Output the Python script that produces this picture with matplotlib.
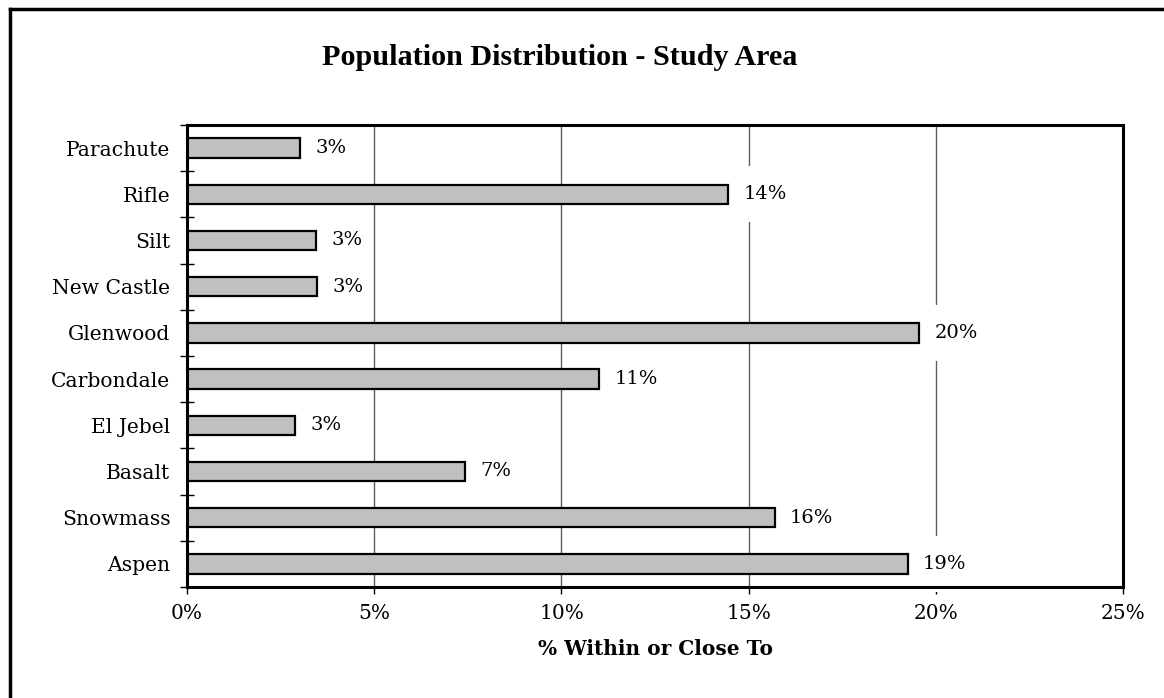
import matplotlib
matplotlib.use("Agg")
import matplotlib.pyplot as plt
from matplotlib.lines import Line2D
from matplotlib.ticker import FixedLocator, FuncFormatter

# Share of study-area population, percent (top to bottom as listed)
towns = ["Parachute", "Rifle", "Silt", "New Castle", "Glenwood",
         "Carbondale", "El Jebel", "Basalt", "Snowmass", "Aspen"]
share_pct = [3.02, 14.45, 3.45, 3.48, 19.55, 11.01, 2.88, 7.43, 15.70, 19.25]
x_ticks = [0, 5, 10, 15, 20, 25]

serif = ["DejaVu Serif"]

fig = plt.figure(figsize=(11.64, 6.98), dpi=100)
ax = fig.add_axes([0.1607, 0.159, 0.8041, 0.662])

# Categories drawn top to bottom
ypos = list(range(len(towns)))[::-1]
ax.barh(ypos, share_pct, height=0.42, color="#c0c0c0", edgecolor="black",
        linewidth=1.6, zorder=2)

ax.set_xlim(0, 25)
ax.set_ylim(-0.5, len(towns) - 0.5)

# Vertical gridlines at the major ticks
ax.xaxis.set_major_locator(FixedLocator(x_ticks))
ax.xaxis.set_major_formatter(FuncFormatter(lambda v, p: f"{v:.0f}%"))
ax.grid(axis="x", color="#5e5e5e", linewidth=1.0, zorder=1)
ax.set_axisbelow(True)

ax.set_yticks(ypos)
ax.set_yticklabels(towns, fontfamily=serif, fontsize=14.6)
ax.yaxis.set_minor_locator(FixedLocator([y - 0.5 for y in range(len(towns) + 1)]))
ax.tick_params(axis="y", which="major", length=0, pad=12)
ax.tick_params(axis="y", which="minor", direction="inout", length=10, width=1.0)
ax.tick_params(axis="x", which="major", direction="out", length=5, width=1.0, pad=7)
for lbl in ax.get_xticklabels():
    lbl.set_fontfamily(serif)
    lbl.set_fontsize(14.5)

for side in ["left", "right", "top", "bottom"]:
    ax.spines[side].set_linewidth(2.2)
    ax.spines[side].set_color("black")
    ax.spines[side].set_zorder(3)

# Value labels with white backing that breaks the gridlines
for y, v in zip(ypos, share_pct):
    ax.annotate("\n" + f"{v:.0f}%" + "\n", xy=(v, y), xytext=(11, 0),
                textcoords="offset points", ha="left", va="center",
                fontfamily=serif, fontsize=14, linespacing=0.9,
                bbox=dict(boxstyle="square,pad=0.12", facecolor="white",
                          edgecolor="none"),
                zorder=2.5, annotation_clip=False)

ax.set_xlabel("% Within or Close To", fontfamily=serif, fontsize=14.5,
              fontweight="bold", labelpad=12)

fig.text(0.4807, 0.918, "Population Distribution - Study Area",
         fontfamily=["Liberation Serif"], fontsize=21.7, fontweight="bold",
         ha="center", va="center")

# Chart frame (top and left edges)
fig.add_artist(Line2D([0.0085, 1.0], [0.987, 0.987], transform=fig.transFigure,
                      color="black", linewidth=2.5))
fig.add_artist(Line2D([0.0085, 0.0085], [0.0, 0.987], transform=fig.transFigure,
                      color="black", linewidth=2.5))

fig.savefig("out.png", dpi=100, facecolor="white")
